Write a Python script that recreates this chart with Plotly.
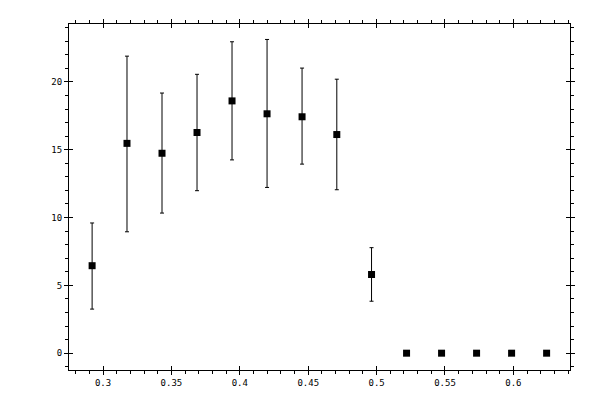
import plotly.graph_objects as go

# values
x_vals = [0.292, 0.3175, 0.3431, 0.3687, 0.3943, 0.4199, 0.4455, 0.4709, 0.4963,
          0.5219, 0.5475, 0.5731, 0.5987, 0.6243]
y_vals = [6.45, 15.47, 14.74, 16.27, 18.6, 17.65, 17.43, 16.12, 5.8,
          0, 0, 0, 0, 0]
y_upper = [9.6, 21.9, 19.18, 20.56, 22.96, 23.13, 21.02, 20.2, 7.78,
           0, 0, 0, 0, 0]
y_lower = [3.25, 8.95, 10.33, 11.98, 14.25, 12.22, 13.94, 12.05, 3.83,
           0, 0, 0, 0, 0]

err_plus = [u - y for u, y in zip(y_upper, y_vals)]
err_minus = [y - l for y, l in zip(y_vals, y_lower)]

font = dict(family="DejaVu Sans Mono", size=9, color="black")

fig = go.Figure()
fig.add_trace(go.Scatter(
    x=x_vals, y=y_vals,
    mode="markers",
    marker=dict(symbol="square", size=7, color="black"),
    error_y=dict(type="data", symmetric=False, array=err_plus, arrayminus=err_minus,
                 color="black", thickness=1, width=2),
    showlegend=False,
    hoverinfo="x+y",
))
# invisible trace to carry the inner half of the crossing major ticks
fig.add_trace(go.Scatter(x=[x_vals[0]], y=[y_vals[0]], xaxis="x2", yaxis="y2",
                         mode="markers", marker=dict(opacity=0), showlegend=False,
                         hoverinfo="skip"))

xr = [0.2751, 0.6414]
yr = [-1.24, 24.27]

# page body has an 8px margin, so the margins are shifted to land the frame
# where the reference has it
fig.update_layout(
    width=600, height=400,
    margin=dict(l=61, r=38, t=11, b=38),
    paper_bgcolor="white", plot_bgcolor="white",
    font=font,
    xaxis=dict(range=xr, tick0=0, dtick=0.05, ticks="outside", ticklen=4, tickwidth=1,
               tickcolor="black", showline=True, linecolor="black", linewidth=1,
               mirror="ticks", showgrid=False, zeroline=False, tickfont=font,
               minor=dict(dtick=0.01, ticks="outside", ticklen=3, tickcolor="black",
                          showgrid=False)),
    yaxis=dict(range=yr, tick0=0, dtick=5, ticks="outside", ticklen=4, tickwidth=1,
               tickcolor="black", showline=True, linecolor="black", linewidth=1,
               mirror="ticks", showgrid=False, zeroline=False, tickfont=font,
               minor=dict(dtick=1, ticks="outside", ticklen=3, tickcolor="black",
                          showgrid=False)),
    xaxis2=dict(range=xr, overlaying="x", tick0=0, dtick=0.05, ticks="inside", ticklen=4,
                tickcolor="black", mirror="ticks", showline=False, showgrid=False,
                zeroline=False, showticklabels=False),
    yaxis2=dict(range=yr, overlaying="y", tick0=0, dtick=5, ticks="inside", ticklen=4,
                tickcolor="black", mirror="ticks", showline=False, showgrid=False,
                zeroline=False, showticklabels=False),
)

fig.write_html("out.html")
